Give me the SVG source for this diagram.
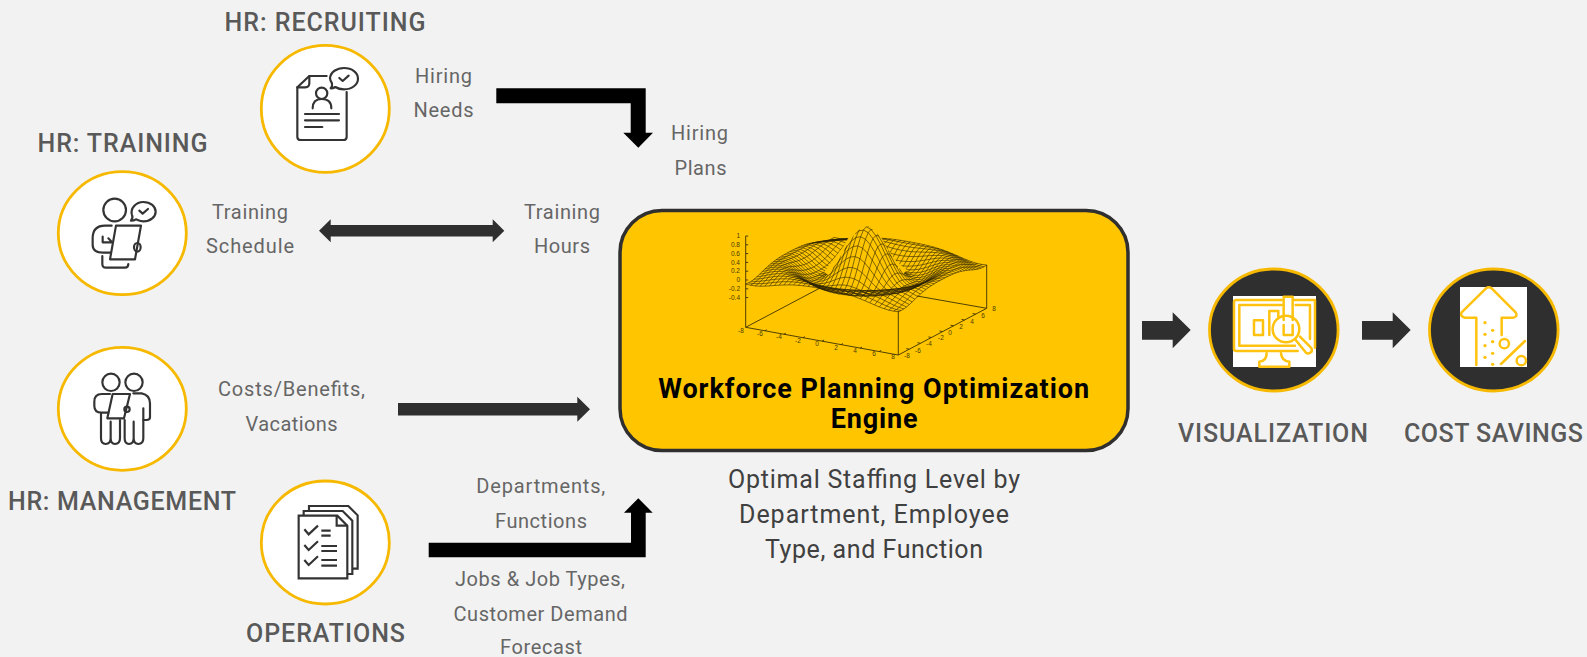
<svg xmlns="http://www.w3.org/2000/svg" width="1587" height="657" viewBox="0 0 1587 657">
<style>
text{font-family:Roboto,"Liberation Sans",sans-serif;text-anchor:middle}
.h{font-size:25px;font-weight:500;fill:#595959}
.l{font-size:20px;fill:#666}
.o{font-size:25px;fill:#404040}
.t{font-size:27px;font-weight:700;fill:#000}
.c{fill:#fff;stroke:#f6b900;stroke-width:2.8}
.d{fill:#2f2f2f;stroke:#f6b900;stroke-width:2.8}
.i{fill:none;stroke:#333;stroke-width:6.5;stroke-linecap:round;stroke-linejoin:round}
.q{stroke-linecap:butt;stroke-linejoin:miter;stroke-width:6.5}
.y{fill:none;stroke:#ffc20e;stroke-width:7.5;stroke-linecap:round;stroke-linejoin:round}
#profiles path{fill:none;stroke:#2e2400;stroke-width:.6;vector-effect:non-scaling-stroke}
.ax{fill:none;stroke:#3d3000;stroke-width:.9}
.n{font-family:"Liberation Sans",sans-serif;font-size:6.5px;fill:#4a3b00}
.nr{text-anchor:end}
</style>
<defs>
<g id="profiles">
<g id="p0"><path id="h0" d="M0 1L.5 .959 1 .841 1.5 .665 2 .455 2.5 .239 3 .047 3.5 -.1 4 -.189 4.5 -.217 5 -.192 5.5 -.128 6 -.047 6.5 .033 7 .094 7.5 .125 8 .124"/><use href="#h0" transform="scale(-1 1)"/></g>
<g id="p1"><path id="h1" d="M0 .959L.5 .919 1 .803 1.5 .632 2 .428 2.5 .219 3 .034 3.5 -.108 4 -.193 4.5 -.217 5 -.189 5.5 -.124 6 -.044 6.5 .036 7 .095 7.5 .125 8 .123"/><use href="#h1" transform="scale(-1 1)"/></g>
<g id="p2"><path id="h2" d="M0 .841L.5 .803 1 .698 1.5 .54 2 .352 2.5 .162 3 -.005 3.5 -.13 4 -.2 4.5 -.215 5 -.182 5.5 -.113 6 -.032 6.5 .042 7 .1 7.5 .127 8 .122"/><use href="#h2" transform="scale(-1 1)"/></g>
<g id="p3"><path id="h3" d="M0 .665L.5 .632 1 .54 1.5 .402 2 .239 2.5 .078 3 -.061 3.5 -.161 4 -.212 4.5 -.21 5 -.167 5.5 -.097 6 -.016 6.5 .058 7 .108 7.5 .127 8 .118"/><use href="#h3" transform="scale(-1 1)"/></g>
<g id="p4"><path id="h4" d="M0 .455L.5 .428 1 .352 1.5 .239 2 .109 2.5 -.018 3 -.124 3.5 -.193 4 -.217 4.5 -.199 5 -.145 5.5 -.073 6 .007 6.5 .073 7 .115 7.5 .128 8 .112"/><use href="#h4" transform="scale(-1 1)"/></g>
<g id="p5"><path id="h5" d="M0 .239L.5 .219 1 .162 1.5 .078 2 -.018 2.5 -.108 3 -.176 3.5 -.213 4 -.211 4.5 -.176 5 -.113 5.5 -.04 6 .033 6.5 .091 7 .123 7.5 .126 8 .103"/><use href="#h5" transform="scale(-1 1)"/></g>
<g id="p6"><path id="h6" d="M0 .047L.5 .034 1 -.005 1.5 -.061 2 -.124 2.5 -.176 3 -.211 3.5 -.215 4 -.192 4.5 -.141 5 -.076 5.5 -.003 6 .061 6.5 .108 7 .128 7.5 .121 8 .09"/><use href="#h6" transform="scale(-1 1)"/></g>
<g id="p7"><path id="h7" d="M0 -.1L.5 -.108 1 -.13 1.5 -.161 2 -.193 2.5 -.213 3 -.215 3.5 -.197 4 -.155 4.5 -.097 5 -.03 5.5 .036 6 .089 6.5 .12 7 .127 7.5 .11 8 .073"/><use href="#h7" transform="scale(-1 1)"/></g>
<g id="p8"><path id="h8" d="M0 -.189L.5 -.193 1 -.2 1.5 -.212 2 -.217 2.5 -.211 3 -.192 3.5 -.155 4 -.104 4.5 -.044 5 .018 5.5 .073 6 .11 6.5 .128 7 .122 7.5 .094 8 .051"/><use href="#h8" transform="scale(-1 1)"/></g>
<g id="p9"><path id="h9" d="M0 -.217L.5 -.217 1 -.215 1.5 -.21 2 -.199 2.5 -.176 3 -.141 3.5 -.097 4 -.044 4.5 .012 5 .064 5.5 .102 6 .125 6.5 .126 7 .107 7.5 .071 8 .027"/><use href="#h9" transform="scale(-1 1)"/></g>
<g id="p10"><path id="h10" d="M0 -.192L.5 -.189 1 -.182 1.5 -.167 2 -.145 2.5 -.113 3 -.076 3.5 -.03 4 .018 4.5 .064 5 .1 5.5 .123 6 .128 6.5 .115 7 .084 7.5 .044 8 0"/><use href="#h10" transform="scale(-1 1)"/></g>
<g id="p11"><path id="h11" d="M0 -.128L.5 -.124 1 -.113 1.5 -.097 2 -.073 2.5 -.04 3 -.003 3.5 .036 4 .073 4.5 .102 5 .123 5.5 .128 6 .118 6.5 .092 7 .056 7.5 .013 8 -.029"/><use href="#h11" transform="scale(-1 1)"/></g>
<g id="p12"><path id="h12" d="M0 -.047L.5 -.044 1 -.032 1.5 -.016 2 .007 2.5 .033 3 .061 3.5 .089 4 .11 4.5 .125 5 .128 5.5 .118 6 .095 6.5 .06 7 .022 7.5 -.019 8 -.054"/><use href="#h12" transform="scale(-1 1)"/></g>
<g id="p13"><path id="h13" d="M0 .033L.5 .036 1 .042 1.5 .058 2 .073 2.5 .091 3 .108 3.5 .12 4 .128 4.5 .126 5 .115 5.5 .092 6 .06 6.5 .025 7 -.013 7.5 -.048 8 -.075"/><use href="#h13" transform="scale(-1 1)"/></g>
<g id="p14"><path id="h14" d="M0 .094L.5 .095 1 .1 1.5 .108 2 .115 2.5 .123 3 .128 3.5 .127 4 .122 4.5 .107 5 .084 5.5 .056 6 .022 6.5 -.013 7 -.046 7.5 -.072 8 -.088"/><use href="#h14" transform="scale(-1 1)"/></g>
<g id="p15"><path id="h15" d="M0 .125L.5 .125 1 .127 1.5 .127 2 .128 2.5 .126 3 .121 3.5 .11 4 .094 4.5 .071 5 .044 5.5 .013 6 -.019 6.5 -.048 7 -.072 7.5 -.087 8 -.091"/><use href="#h15" transform="scale(-1 1)"/></g>
<g id="p16"><path id="h16" d="M0 .124L.5 .123 1 .122 1.5 .118 2 .112 2.5 .103 3 .09 3.5 .073 4 .051 4.5 .027 5 0 5.5 -.029 6 -.054 6.5 -.075 7 -.088 7.5 -.091 8 -.085"/><use href="#h16" transform="scale(-1 1)"/></g>
</g>
<clipPath id="sil"><polygon points="824,272 833,260 843,247 850,235 857,228 865,226 873,228 880,235 887,248 897,262 907,270 897,280 882,285 866,286 850,285 835,280"/></clipPath>
<clipPath id="ra"><rect x="-5.2" y="-2" width="30" height="4"/></clipPath>
<clipPath id="rb"><rect x="-4.33" y="-2" width="30" height="4"/></clipPath>
<clipPath id="rc"><rect x="-3.46" y="-2" width="30" height="4"/></clipPath>
<clipPath id="rd"><rect x="-2.6" y="-2" width="30" height="4"/></clipPath>
<clipPath id="re"><rect x="-1.73" y="-2" width="30" height="4"/></clipPath>
<clipPath id="rf"><rect x="-.87" y="-2" width="30" height="4"/></clipPath>
<clipPath id="rg"><rect x="0" y="-2" width="30" height="4"/></clipPath>
<clipPath id="rh"><rect x=".87" y="-2" width="30" height="4"/></clipPath>
<clipPath id="ri"><rect x="1.73" y="-2" width="30" height="4"/></clipPath>
<clipPath id="rj"><rect x="2.6" y="-2" width="30" height="4"/></clipPath>
<clipPath id="rk"><rect x="3.46" y="-2" width="30" height="4"/></clipPath>
<clipPath id="ca"><rect x="-30" y="-2" width="28.27" height="4"/></clipPath>
<clipPath id="cb"><rect x="-30" y="-2" width="28.56" height="4"/></clipPath>
<clipPath id="cc"><rect x="-30" y="-2" width="28.85" height="4"/></clipPath>
<clipPath id="cd"><rect x="-30" y="-2" width="29.13" height="4"/></clipPath>
<clipPath id="ce"><rect x="-30" y="-2" width="29.42" height="4"/></clipPath>
<clipPath id="cf"><rect x="-30" y="-2" width="29.71" height="4"/></clipPath>
<clipPath id="cg"><rect x="-30" y="-2" width="30" height="4"/></clipPath>
<clipPath id="ch"><rect x="-30" y="-2" width="30.29" height="4"/></clipPath>
<clipPath id="ci"><rect x="-30" y="-2" width="30.58" height="4"/></clipPath>
<clipPath id="cj"><rect x="-30" y="-2" width="30.87" height="4"/></clipPath>
<clipPath id="ck"><rect x="-30" y="-2" width="31.15" height="4"/></clipPath>
<clipPath id="cl"><rect x="-30" y="-2" width="31.44" height="4"/></clipPath>
<clipPath id="cm"><rect x="-30" y="-2" width="31.73" height="4"/></clipPath>
</defs>
<rect width="1587" height="657" fill="#f2f2f2"/>

<g id="connectors">
<polygon fill="#000" points="496.3,88.3 645.7,88.3 645.7,132.7 653,132.7 638.3,147.7 623.3,132.7 630.7,132.7 630.7,103.3 496.3,103.3"/>
<polygon fill="#2f2f2f" points="319,230.8 330.7,219.3 330.7,225 492.7,225 492.7,219.3 504.3,230.8 492.7,242.3 492.7,236.5 330.7,236.5 330.7,242.3"/>
<polygon fill="#2f2f2f" points="398,403 577.3,403 577.3,396.7 590,409.3 577.3,421.7 577.3,415.4 398,415.4"/>
<polygon fill="#000" points="428.7,542.7 631,542.7 631,512.7 624,512.7 638.3,498.3 652.7,512.7 645.7,512.7 645.7,557.3 428.7,557.3"/>
<polygon fill="#2f2f2f" points="1142,321 1172.7,321 1172.7,312.3 1190.7,330 1172.7,348.3 1172.7,339.7 1142,339.7"/>
<polygon fill="#2f2f2f" points="1362,321 1392.7,321 1392.7,312.3 1410.7,330 1392.7,348.3 1392.7,339.7 1362,339.7"/>
</g>

<g id="recruiting">
<ellipse class="c" cx="325.3" cy="108.8" rx="64" ry="63.5"/>
<g transform="translate(240 0) scale(.3333)" class="i">
<path d="M260 228H208L172 262V410Q172 420 182 420H310Q320 420 320 410V276"/>
<path d="M208 228V250Q208 262 196 262H172"/>
<path d="M272 265Q278 258 276 250Q270 240 270 234C272 216 290 204 312 204C336 204 354 218 354 236C354 254 336 268 312 268C300 268 292 265 286 261Q280 265 272 265Z"/>
<path d="M298 234l10 9l18-16"/>
<circle cx="245" cy="280" r="17"/>
<path d="M218 325Q218 297 245 297Q274 297 274 325"/>
<path d="M195 342H297M195 361H297M195 381H247"/>
</g>
<text class="h" x="325" y="31" textLength="201">HR: RECRUITING</text>
<text class="l" x="443.5" y="83" textLength="57">Hiring</text>
<text class="l" x="443.5" y="117" textLength="60">Needs</text>
</g>

<g id="hiring-plans">
<text class="l" x="699.5" y="140" textLength="57">Hiring</text>
<text class="l" x="700.5" y="175" textLength="52">Plans</text>
</g>

<g id="training">
<ellipse class="c" cx="122.3" cy="233.2" rx="64" ry="61.5"/>
<g transform="translate(40 160) scale(.3333)" class="i">
<circle cx="224" cy="150" r="34"/>
<path d="M273 182Q280 172 276 165C270 145 288 126 310 126C332 126 347 140 347 155C347 170 332 184 310 184C300 184 294 180 288 178Q282 182 273 182Z"/>
<path d="M298 152l10 9l16-14"/>
<path d="M215 197H195Q158 197 158 235V255Q158 278 190 278H212"/>
<path d="M188 230V247H218M205 235l10 10"/>
<path d="M228 197H303L285 298H210Z"/>
<ellipse cx="292" cy="262" rx="10" ry="13"/>
<path d="M187 288V312Q187 323 198 323H255Q265 323 265 312"/>
</g>
<text class="h" x="122.5" y="152" textLength="170">HR: TRAINING</text>
<text class="l" x="250" y="219" textLength="76">Training</text>
<text class="l" x="250" y="253" textLength="88">Schedule</text>
<text class="l" x="562" y="218.5" textLength="76">Training</text>
<text class="l" x="562" y="253" textLength="56">Hours</text>
</g>

<g id="management">
<ellipse class="c" cx="122.3" cy="408.8" rx="64" ry="61.5"/>
<g transform="translate(40 340) scale(.3333)" class="i">
<circle cx="213" cy="127" r="26"/><circle cx="282" cy="127" r="26"/>
<path d="M210 162H185Q163 162 163 185V198Q163 218 185 218H205"/>
<path d="M218 162H270L252 235H202Z"/>
<circle cx="261" cy="208" r="8"/>
<path d="M280 160H305Q330 165 330 190V232Q330 240 320 240H310"/>
<path d="M183 220V295Q183 312 197 312Q212 312 212 295V245V295Q212 312 225 312Q240 312 240 295V240M254 240V295Q254 312 267 312Q281 312 281 295V245V295Q281 312 295 312Q310 312 310 295V205"/>
</g>
<text class="h" x="122" y="510" textLength="228">HR: MANAGEMENT</text>
<text class="l" x="291.5" y="396" textLength="147">Costs/Benefits,</text>
<text class="l" x="291.5" y="431" textLength="92">Vacations</text>
</g>

<g id="operations">
<ellipse class="c" cx="325.3" cy="542.5" rx="64" ry="61.5"/>
<g transform="translate(250 470) scale(.3333)" class="i q">
<path d="M177 123V108H295L323 136V296H308"/>
<path d="M161 138V123H278L307 152V312H293"/>
<path d="M146 325V137H262L292 167V325Z"/>
<path d="M260 137V167H292"/>
<path d="M163 178l13 15l28-26M214 182H242M214 197H242"/>
<path d="M163 225l13 15l28-26M214 228H261M214 243H261"/>
<path d="M163 270l13 15l28-26M214 270H261M214 287H261"/>
</g>
<text class="h" x="325.5" y="642" textLength="159">OPERATIONS</text>
<text class="l" x="540.8" y="492.7" textLength="129">Departments,</text>
<text class="l" x="541" y="528.3" textLength="92">Functions</text>
<text class="l" x="540" y="586" textLength="170">Jobs &amp; Job Types,</text>
<text class="l" x="540.5" y="621" textLength="174">Customer Demand</text>
<text class="l" x="541" y="654.3" textLength="82">Forecast</text>
</g>

<g id="engine">
<rect x="620" y="210.5" width="508" height="240" rx="42" ry="42" fill="#ffc600" stroke="#2f2f2f" stroke-width="3.5"/>
<g id="surface-plot">
<path class="ax" d="M745.7 236V327.3L898.3 355L986.7 308.3V265M898.3 355V311M745.7 327.3L820 288M986.7 308.3L917 296"/>
<path class="ax" d="M745.7 236h2.5M745.7 244.8h2.5M745.7 253.6h2.5M745.7 262.4h2.5M745.7 271.2h2.5M745.7 280h2.5M745.7 288.8h2.5M745.7 297.6h2.5M764.8 330.8l2-1M783.8 334.2l2-1M802.9 337.7l2-1M822 341.1l2-1M841 344.6l2-1M860.1 348.1l2-1M879.2 351.5l2-1M909.3 349.2l-3-.6M920.4 343.3l-3-.6M931.4 337.5l-3-.6M942.5 331.6l-3-.6M953.5 325.8l-3-.6M964.5 320l-3-.6M975.6 314.1l-3-.6"/>
<g transform="translate(866.2 270.8)">
<use href="#p16" transform="matrix(9.54 1.73 0 -44 44.16 -23.36)"/>
<use href="#p15" transform="matrix(9.54 1.73 0 -44 41.4 -21.9)"/>
<use href="#p14" transform="matrix(9.54 1.73 0 -44 38.64 -20.44)"/>
<use href="#p13" transform="matrix(9.54 1.73 0 -44 35.88 -18.98)"/>
<use href="#p12" transform="matrix(9.54 1.73 0 -44 33.12 -17.52)"/>
<use href="#p11" transform="matrix(9.54 1.73 0 -44 30.36 -16.06)"/>
<use href="#p10" transform="matrix(9.54 1.73 0 -44 27.6 -14.6)"/>
<use href="#p9" transform="matrix(9.54 1.73 0 -44 24.84 -13.14)"/>
<use href="#p8" transform="matrix(9.54 1.73 0 -44 22.08 -11.68)"/>
<use href="#p7" transform="matrix(9.54 1.73 0 -44 19.32 -10.22)"/>
<use href="#p6" transform="matrix(9.54 1.73 0 -44 16.56 -8.76)"/>
<use href="#p5" transform="matrix(9.54 1.73 0 -44 13.8 -7.3)"/>
<use href="#p4" transform="matrix(9.54 1.73 0 -44 11.04 -5.84)"/>
<use href="#p3" transform="matrix(9.54 1.73 0 -44 8.28 -4.38)"/>
<use href="#p2" transform="matrix(9.54 1.73 0 -44 5.52 -2.92)"/>
<use href="#p1" transform="matrix(9.54 1.73 0 -44 2.76 -1.46)"/>
<use href="#p0" transform="matrix(9.54 1.73 0 -44 0 0)"/>
<use href="#p1" transform="matrix(9.54 1.73 0 -44 -2.76 1.46)"/>
<use href="#p2" transform="matrix(9.54 1.73 0 -44 -5.52 2.92)"/>
<use href="#p3" transform="matrix(9.54 1.73 0 -44 -8.28 4.38)"/>
<use href="#p4" transform="matrix(9.54 1.73 0 -44 -11.04 5.84)"/>
<use href="#p5" transform="matrix(9.54 1.73 0 -44 -13.8 7.3)"/>
<use href="#p6" transform="matrix(9.54 1.73 0 -44 -16.56 8.76)"/>
<use href="#p7" transform="matrix(9.54 1.73 0 -44 -19.32 10.22)"/>
<use href="#p8" transform="matrix(9.54 1.73 0 -44 -22.08 11.68)"/>
<use href="#p9" transform="matrix(9.54 1.73 0 -44 -24.84 13.14)"/>
<use href="#p10" transform="matrix(9.54 1.73 0 -44 -27.6 14.6)"/>
<use href="#p11" transform="matrix(9.54 1.73 0 -44 -30.36 16.06)"/>
<use href="#p12" transform="matrix(9.54 1.73 0 -44 -33.12 17.52)"/>
<use href="#p13" transform="matrix(9.54 1.73 0 -44 -35.88 18.98)"/>
<use href="#p14" transform="matrix(9.54 1.73 0 -44 -38.64 20.44)"/>
<use href="#p15" transform="matrix(9.54 1.73 0 -44 -41.4 21.9)"/>
<use href="#p16" transform="matrix(9.54 1.73 0 -44 -44.16 23.36)"/>
<use href="#p16" transform="matrix(5.52 -2.92 0 -44 76.32 13.84)"/>
<use href="#p15" transform="matrix(5.52 -2.92 0 -44 71.55 12.975)"/>
<use href="#p14" transform="matrix(5.52 -2.92 0 -44 66.78 12.11)"/>
<use href="#p13" transform="matrix(5.52 -2.92 0 -44 62.01 11.245)"/>
<use href="#p12" transform="matrix(5.52 -2.92 0 -44 57.24 10.38)"/>
<use href="#p11" transform="matrix(5.52 -2.92 0 -44 52.47 9.515)"/>
<use href="#p10" transform="matrix(5.52 -2.92 0 -44 47.7 8.65)"/>
<use href="#p9" transform="matrix(5.52 -2.92 0 -44 42.93 7.785)"/>
<use href="#p8" transform="matrix(5.52 -2.92 0 -44 38.16 6.92)"/>
<use href="#p7" transform="matrix(5.52 -2.92 0 -44 33.39 6.055)"/>
<use href="#p6" transform="matrix(5.52 -2.92 0 -44 28.62 5.19)"/>
<use href="#p5" transform="matrix(5.52 -2.92 0 -44 23.85 4.325)"/>
<use href="#p4" transform="matrix(5.52 -2.92 0 -44 19.08 3.46)"/>
<use href="#p3" transform="matrix(5.52 -2.92 0 -44 14.31 2.595)"/>
<use href="#p2" transform="matrix(5.52 -2.92 0 -44 9.54 1.73)"/>
<use href="#p1" transform="matrix(5.52 -2.92 0 -44 4.77 .865)"/>
<use href="#p0" transform="matrix(5.52 -2.92 0 -44 0 0)"/>
<use href="#p1" transform="matrix(5.52 -2.92 0 -44 -4.77 -.865)"/>
<use href="#p2" transform="matrix(5.52 -2.92 0 -44 -9.54 -1.73)"/>
<use href="#p3" transform="matrix(5.52 -2.92 0 -44 -14.31 -2.595)"/>
<use href="#p4" transform="matrix(5.52 -2.92 0 -44 -19.08 -3.46)"/>
<use href="#p5" transform="matrix(5.52 -2.92 0 -44 -23.85 -4.325)"/>
<use href="#p6" transform="matrix(5.52 -2.92 0 -44 -28.62 -5.19)"/>
<use href="#p7" transform="matrix(5.52 -2.92 0 -44 -33.39 -6.055)"/>
<use href="#p8" transform="matrix(5.52 -2.92 0 -44 -38.16 -6.92)"/>
<use href="#p9" transform="matrix(5.52 -2.92 0 -44 -42.93 -7.785)"/>
<use href="#p10" transform="matrix(5.52 -2.92 0 -44 -47.7 -8.65)"/>
<use href="#p11" transform="matrix(5.52 -2.92 0 -44 -52.47 -9.515)"/>
<use href="#p12" transform="matrix(5.52 -2.92 0 -44 -57.24 -10.38)"/>
<use href="#p13" transform="matrix(5.52 -2.92 0 -44 -62.01 -11.245)"/>
<use href="#p14" transform="matrix(5.52 -2.92 0 -44 -66.78 -12.11)"/>
<use href="#p15" transform="matrix(5.52 -2.92 0 -44 -71.55 -12.975)"/>
<use href="#p16" transform="matrix(5.52 -2.92 0 -44 -76.32 -13.84)"/>
</g>
<polygon fill="#ffc600" points="824,272 833,260 843,247 850,235 857,228 865,226 873,228 880,235 887,248 897,262 907,270 897,280 882,285 866,286 850,285 835,280"/>
<g clip-path="url(#sil)"><g transform="translate(866.2 270.8)">
<use href="#p4" clip-path="url(#rk)" transform="matrix(9.54 1.73 0 -44 11.04 -5.84)"/>
<use href="#p3" clip-path="url(#rj)" transform="matrix(9.54 1.73 0 -44 8.28 -4.38)"/>
<use href="#p2" clip-path="url(#ri)" transform="matrix(9.54 1.73 0 -44 5.52 -2.92)"/>
<use href="#p1" clip-path="url(#rh)" transform="matrix(9.54 1.73 0 -44 2.76 -1.46)"/>
<use href="#p0" clip-path="url(#rg)" transform="matrix(9.54 1.73 0 -44 0 0)"/>
<use href="#p1" clip-path="url(#rf)" transform="matrix(9.54 1.73 0 -44 -2.76 1.46)"/>
<use href="#p2" clip-path="url(#re)" transform="matrix(9.54 1.73 0 -44 -5.52 2.92)"/>
<use href="#p3" clip-path="url(#rd)" transform="matrix(9.54 1.73 0 -44 -8.28 4.38)"/>
<use href="#p4" clip-path="url(#rc)" transform="matrix(9.54 1.73 0 -44 -11.04 5.84)"/>
<use href="#p5" clip-path="url(#rb)" transform="matrix(9.54 1.73 0 -44 -13.8 7.3)"/>
<use href="#p6" clip-path="url(#ra)" transform="matrix(9.54 1.73 0 -44 -16.56 8.76)"/>
<use href="#p7" transform="matrix(9.54 1.73 0 -44 -19.32 10.22)"/>
<use href="#p6" clip-path="url(#cm)" transform="matrix(5.52 -2.92 0 -44 28.62 5.19)"/>
<use href="#p5" clip-path="url(#cl)" transform="matrix(5.52 -2.92 0 -44 23.85 4.325)"/>
<use href="#p4" clip-path="url(#ck)" transform="matrix(5.52 -2.92 0 -44 19.08 3.46)"/>
<use href="#p3" clip-path="url(#cj)" transform="matrix(5.52 -2.92 0 -44 14.31 2.595)"/>
<use href="#p2" clip-path="url(#ci)" transform="matrix(5.52 -2.92 0 -44 9.54 1.73)"/>
<use href="#p1" clip-path="url(#ch)" transform="matrix(5.52 -2.92 0 -44 4.77 .865)"/>
<use href="#p0" clip-path="url(#cg)" transform="matrix(5.52 -2.92 0 -44 0 0)"/>
<use href="#p1" clip-path="url(#cf)" transform="matrix(5.52 -2.92 0 -44 -4.77 -.865)"/>
<use href="#p2" clip-path="url(#ce)" transform="matrix(5.52 -2.92 0 -44 -9.54 -1.73)"/>
<use href="#p3" clip-path="url(#cd)" transform="matrix(5.52 -2.92 0 -44 -14.31 -2.595)"/>
<use href="#p4" clip-path="url(#cc)" transform="matrix(5.52 -2.92 0 -44 -19.08 -3.46)"/>
<use href="#p5" clip-path="url(#cb)" transform="matrix(5.52 -2.92 0 -44 -23.85 -4.325)"/>
<use href="#p6" clip-path="url(#ca)" transform="matrix(5.52 -2.92 0 -44 -28.62 -5.19)"/>
</g></g>
<g class="n">
<text class="n nr" x="740" y="238">1</text><text class="n nr" x="740" y="247">0.8</text><text class="n nr" x="740" y="256">0.6</text><text class="n nr" x="740" y="264.5">0.4</text><text class="n nr" x="740" y="273">0.2</text><text class="n nr" x="740" y="282">0</text><text class="n nr" x="740" y="291">-0.2</text><text class="n nr" x="740" y="300">-0.4</text>
<text class="n" x="741" y="333">-8</text><text class="n" x="760" y="336">-6</text><text class="n" x="779" y="339">-4</text><text class="n" x="798" y="343">-2</text><text class="n" x="817" y="346">0</text><text class="n" x="836" y="350">2</text><text class="n" x="855" y="353">4</text><text class="n" x="874" y="356">6</text><text class="n" x="893" y="359">8</text>
<text class="n" x="907" y="358">-8</text><text class="n" x="918" y="353">-6</text><text class="n" x="929" y="346">-4</text><text class="n" x="941" y="340">-2</text><text class="n" x="950" y="335">0</text><text class="n" x="961" y="329">2</text><text class="n" x="972" y="324">4</text><text class="n" x="983" y="318">6</text><text class="n" x="994" y="311">8</text>
</g>
</g>
<text class="t" x="873.7" y="398.3" textLength="431">Workforce Planning Optimization</text>
<text class="t" x="874.2" y="428.3" textLength="87">Engine</text>
<text class="o" x="874" y="488.3" textLength="292">Optimal Staffing Level by</text>
<text class="o" x="874" y="522.7" textLength="270">Department, Employee</text>
<text class="o" x="874" y="558" textLength="218">Type, and Function</text>
</g>

<g id="visualization">
<ellipse class="d" cx="1273.8" cy="330" rx="64.3" ry="61"/>
<rect x="1233" y="296" width="83" height="71" fill="#fff"/>
<g transform="translate(1130 255) scale(.3333)" class="y">
<path d="M455 135H318Q312 135 312 142V282Q312 288 320 288H503"/>
<path d="M455 150H328V272H495"/>
<path d="M492 135H555V278M497 150H540V252"/>
<rect x="372" y="196" width="27" height="44"/>
<path d="M418 240V168H445V190"/>
<path d="M461 195V125H488V195M461 210V240H488V210"/>
<circle cx="468" cy="222" r="40"/>
<path d="M497 255L527 292Q535 300 545 290Q548 282 540 275L510 245"/>
<path d="M410 295Q410 318 388 320V335H478V320Q455 318 453 295"/>
</g>
<text class="h" x="1273" y="442" textLength="190">VISUALIZATION</text>
</g>

<g id="cost-savings">
<ellipse class="d" cx="1493.8" cy="330" rx="64.3" ry="61"/>
<rect x="1460" y="287" width="67" height="80" fill="#fff"/>
<g transform="translate(1350 255) scale(.3333)" class="y">
<path d="M379 330V188H345Q328 184 335 172L408 100Q416 94 425 100L497 172Q505 184 490 188H455V240"/>
<g fill="#ffc20e" stroke="none"><circle cx="405" cy="203" r="5"/><circle cx="428" cy="226" r="5"/><circle cx="405" cy="238" r="5"/><circle cx="428" cy="260" r="5"/><circle cx="405" cy="272" r="5"/><circle cx="428" cy="295" r="5"/><circle cx="405" cy="307" r="5"/><circle cx="428" cy="328" r="5"/></g>
<circle cx="463" cy="266" r="14"/>
<path d="M453 327L525 258"/>
<circle cx="514" cy="317" r="14"/>
</g>
<text class="h" x="1493.5" y="442" textLength="179">COST SAVINGS</text>
</g>
</svg>
